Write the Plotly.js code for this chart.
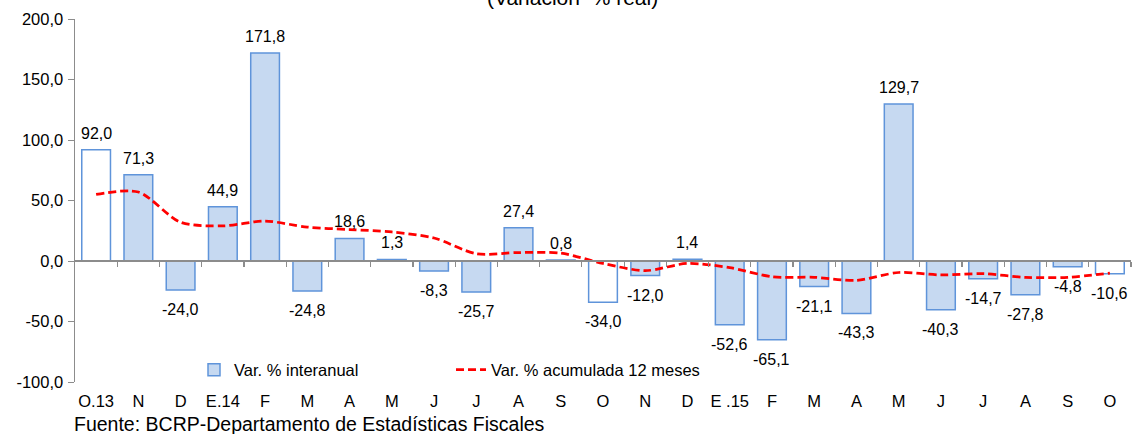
<!DOCTYPE html>
<html>
<head>
<meta charset="utf-8">
<script src="https://cdn.plot.ly/plotly-3.0.1.min.js"></script>
<style>html,body{margin:0;padding:0;background:#fff}#chart{width:1132px;height:434px}</style>
</head>
<body>
<div id="chart"></div>
<script>
const categories = ["O.13","N","D","E.14","F","M","A","M","J","J","A","S","O","N","D","E .15","F","M","A","M","J","J","A","S","O"];
const interanual = [92.0,71.3,-24.0,44.9,171.8,-24.8,18.6,1.3,-8.3,-25.7,27.4,0.8,-34.0,-12.0,1.4,-52.6,-65.1,-21.1,-43.3,129.7,-40.3,-14.7,-27.8,-4.8,-10.6];
const acumulada = [55,57,32,29,33,28,26,24,19,6,7,6.5,-2,-8,-2,-5.5,-13,-13.5,-16,-9.5,-11.5,-10.5,-13.5,-13.5,-10];
const yTickVals = [-100,-50,0,50,100,150,200];
const whiteIdx = [0,12,24];   // October bars drawn with white fill
const idx = categories.map((c,i)=>i);
const BLUE_FILL = "#C6D9F1", BLUE_LINE = "#5F94DA";
const FONT = "Liberation Sans, Arial, sans-serif";
const fmt = v => v.toFixed(1).replace(".", ",");
const blueVals = interanual.map((v,i) => whiteIdx.includes(i) ? null : v);
const whiteVals = interanual.map((v,i) => whiteIdx.includes(i) ? v : null);

const traces = [
  {type:"bar", x: idx, y: blueVals, name:"Var. % interanual",
   marker:{color: BLUE_FILL, line:{color:BLUE_LINE, width:1.5}},
   width: 0.68, legend:"legend", hoverinfo:"skip"},
  {type:"bar", x: idx, y: whiteVals, name:"Var. % interanual (oct.)",
   marker:{color: "#FFFFFF", line:{color:BLUE_LINE, width:1.5}},
   width: 0.68, showlegend:false, hoverinfo:"skip"},
  {type:"scatter", mode:"lines", x: idx, y: acumulada, name:"Var. % acumulada 12 meses",
   line:{color:"#FF0000", width:2.75, dash:"8px,4px", shape:"spline", smoothing:0.8},
   legend:"legend2", hoverinfo:"skip"},
  {type:"scatter", mode:"none", x: idx, y: interanual, xaxis:"x2", showlegend:false, hoverinfo:"skip"}
];

const labelAnns = idx.map(i => ({
  xref:"x", yref:"y", x:i, y:interanual[i], text: fmt(interanual[i]), showarrow:false,
  xanchor:"center", yanchor: interanual[i] >= 0 ? "bottom" : "top",
  yshift: interanual[i] >= 0 ? 6 : -9,
  font:{family:FONT, size:16, color:"#000"}
}));

const layout = {
  width:1132, height:434,
  margin:{l:75, r:1, t:19, b:52},
  paper_bgcolor:"#fff", plot_bgcolor:"#fff",
  font:{family:FONT, size:16, color:"#000"},
  showlegend:true,
  barmode:"overlay",
  xaxis:{type:"linear", range:[-0.5, categories.length-0.5],
    tickmode:"array", tickvals: idx, ticktext: categories,
    showline:false, showgrid:false, zeroline:false, ticks:"",
    ticklabelstandoff:7,
    tickfont:{family:FONT, size:16.5, color:"#000"}},
  xaxis2:{type:"linear", overlaying:"x", anchor:"free", position:1/3,
    range:[-0.5, categories.length-0.5],
    tickmode:"array", tickvals: idx.map(i=>i+0.5),
    showticklabels:false, showline:true, linecolor:"#8C8C8C", linewidth:2,
    ticks:"outside", ticklen:5, tickcolor:"#8C8C8C", tickwidth:1.2,
    showgrid:false, zeroline:false},
  yaxis:{range:[-100,200], tickmode:"array", tickvals: yTickVals,
    ticktext: yTickVals.map(fmt),
    showline:true, linecolor:"#8C8C8C", linewidth:1.5,
    ticks:"outside", ticklen:6, tickcolor:"#8C8C8C",
    showgrid:false, zeroline:false, ticklabelstandoff:1,
    tickfont:{family:FONT, size:16.5, color:"#000"}},
  legend:{x:(194-75)/1056, y:0.033, xanchor:"left", yanchor:"middle",
    orientation:"h", bgcolor:"rgba(0,0,0,0)", font:{family:FONT,size:16.5}},
  legend2:{x:(451-75)/1056, y:0.033, xanchor:"left", yanchor:"middle",
    orientation:"h", bgcolor:"rgba(0,0,0,0)", font:{family:FONT,size:16.5}},
  annotations: labelAnns.concat([
    {text:"(Variación  % real)", xref:"paper", yref:"paper", x:(572-75)/1056, y:(382+2)/363,
     xanchor:"center", yanchor:"middle", showarrow:false, font:{family:FONT, size:21, color:"#000"}},
    {text:"Fuente: BCRP-Departamento de Estadísticas Fiscales", xref:"paper", yref:"paper",
     x:(72-75)/1056, y:(382-424)/363, xanchor:"left", yanchor:"middle", showarrow:false,
     font:{family:FONT, size:19.5, color:"#000"}}
  ])
};

Plotly.newPlot("chart", traces, layout, {staticPlot:true, displayModeBar:false});
</script>
</body>
</html>
